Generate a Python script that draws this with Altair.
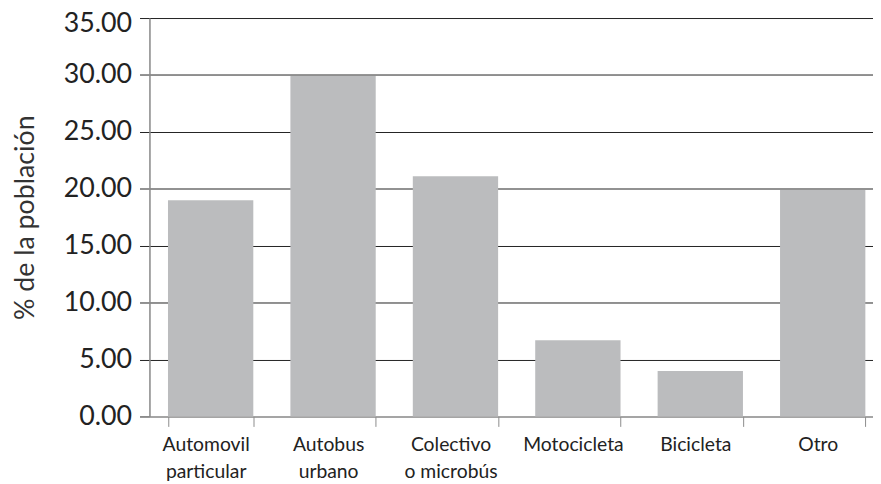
import altair as alt
import pandas as pd

categories = ["Automovil|particular", "Autobus|urbano", "Colectivo|o microbús",
              "Motocicleta", "Bicicleta", "Otro"]
values = [19.0, 29.9, 21.1, 6.7, 4.0, 19.9]
y_ticks = [0, 5, 10, 15, 20, 25, 30, 35]

df = pd.DataFrame({"cat": categories, "val": values})

FONT = "Lato"

bars = alt.Chart(df).mark_bar(color="#BBBCBE").encode(
    x=alt.X("cat:N", sort=categories,
            scale=alt.Scale(range=[0, 741], paddingInner=0.303, paddingOuter=0.1515),
            axis=alt.Axis(title=None, labelAngle=0, labelAlign="center", labelOffset=-5,
                          labelExpr="split(datum.label, '|')", labelLineHeight=28,
                          labelFont=FONT, labelFontSize=19.5, labelColor="#222222",
                          labelPadding=9, labelBaseline="top",
                          tickBand="extent", tickSize=10, tickColor="#8c8c8c",
                          domainColor="#8c8c8c", domainWidth=1.5, grid=False)),
    y=alt.Y("val:Q",
            scale=alt.Scale(domain=[0, 35], nice=False),
            axis=alt.Axis(title="% de la población", values=y_ticks, format=".2f",
                          labelFont=FONT, labelFontSize=27, labelColor="#222222",
                          labelPadding=8,
                          labelOffset={"condition": {"test": "datum.value == 35", "value": 6}, "value": 0},
                          titleFont=FONT, titleFontSize=27, titleFontWeight="normal",
                          titleColor="#333333", titlePadding=24,
                          tickSize=10, tickColor="#222222",
                          domainColor="#8c8c8c", domainWidth=1.5,
                          grid=True, gridColor="#222222", gridWidth=1,
                          gridOpacity={"condition": {"test": "datum.value == 0", "value": 0}, "value": 1})),
)

chart = bars.properties(
    width=730, height=402,
    padding={"left": 142.7, "top": 8, "right": 0, "bottom": 65},
    autosize=alt.AutoSizeParams(type="none"),
).configure_view(stroke=None).configure(background="white")

chart.save("out.html", embed_options={"renderer": "svg", "actions": False})
